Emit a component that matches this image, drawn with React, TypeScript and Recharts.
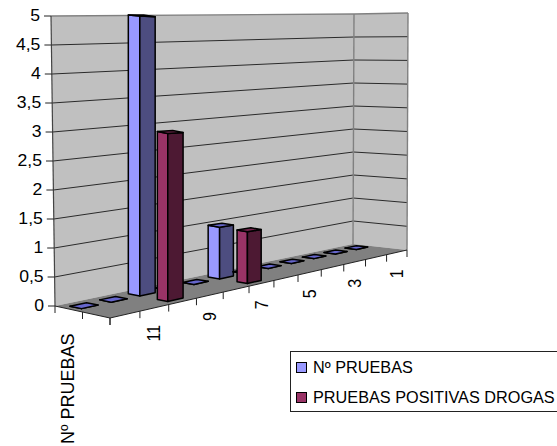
import React from "react";
import { BarChart, Bar, XAxis, YAxis, Legend, Customized } from "recharts";

const categories = ["12", "11", "10", "9", "8", "7", "6", "5", "4", "3", "2", "1"];
const labelledCategories = ["11", "9", "7", "5", "3", "1"];
const pruebas = [0, 0, 5, 0, 0, 1, 0, 0, 0, 0, 0, 0];
const positivas = [null, null, 3, null, null, 1, null, null, null, null, null, null];
const yTicks = [0, 0.5, 1, 1.5, 2, 2.5, 3, 3.5, 4, 4.5, 5];
const depthLabel = "Nº PRUEBAS";
const seriesNames = ["Nº PRUEBAS", "PRUEBAS POSITIVAS DROGAS"];

const data = categories.map((c, i) => ({ cat: c, pruebas: pruebas[i], positivas: positivas[i] }));

const FONT = "'Liberation Sans', Arial, sans-serif";
const L = 55, R = 407, T = 16, B = 306;
const W = R - L, H = B - T;

// floor and wall corners of the 3D box
const fA = [55, 306], fB = [110, 318], fC = [407, 250], fD = [353, 244];
const tA = [51, 16], tD = [354, 14], tC = [408, 13];
const G = 0.232;

const lerp = (a: number, b: number, t: number) => a + (b - a) * t;
const persp = (u: number) => (u * (1 + G)) / (1 + G * u);
const floorPt = (s: number, v: number) => {
  const fx = lerp(fB[0], fC[0], s), fy = lerp(fB[1], fC[1], s);
  const bx = lerp(fA[0], fD[0], s), by = lerp(fA[1], fD[1], s);
  return [lerp(fx, bx, v), lerp(fy, by, v)];
};
const lift = (s: number, v: number, frac: number) => {
  const [x, y] = floorPt(s, v);
  return [x, Math.max(15, y - frac * (298 - 81 * s))];
};
const pts = (a: number[][]) => a.map((p) => p.join(",")).join(" ");

const makeShape =
  (key: string, v0: number, v1: number, light: string, dark: string, top: string) =>
  (props: any) => {
    const { x, width, height, payload } = props;
    if (payload == null || payload[key] == null) return <g />;
    const s0 = persp((x - L) / W), s1 = persp((x + width - L) / W);
    const f = Math.abs(height) / H;
    const a0 = lift(s0, v0, 0), a1 = lift(s0, v1, 0), a2 = lift(s1, v0, 0);
    const b0 = lift(s0, v0, f), b1 = lift(s0, v1, f), b2 = lift(s1, v0, f), b3 = lift(s1, v1, f);
    const st = { stroke: "#000", strokeWidth: 1.5, strokeLinejoin: "round" as const };
    return (
      <g>
        <polygon points={pts([a1, a0, b0, b1])} fill={light} {...st} />
        <polygon points={pts([a0, a2, b2, b0])} fill={dark} {...st} />
        <polygon points={pts([b0, b1, b3, b2])} fill={top} {...st} />
      </g>
    );
  };

const blueShape = makeShape("pruebas", 0.65, 0.86, "#9999FF", "#4D4D80", "#6666CC");
const redShape = makeShape("positivas", 0.14, 0.33, "#993366", "#4D1933", "#73264D");

const Box3D = () => (
  <g>
    <polygon points={pts([tA, fA, fD, tD])} fill="#C0C0C0" />
    <polygon points={pts([tD, fD, fC, tC])} fill="#C0C0C0" />
    <polygon points={pts([fA, fB, fC, fD])} fill="#808080" />
    {yTicks.filter((t) => t > 0).map((t) => {
      const f = t / 5;
      const p0 = [lerp(fA[0], tA[0], f), lerp(fA[1], tA[1], f)];
      const p1 = [lerp(fD[0], tD[0], f), lerp(fD[1], tD[1], f)];
      const p2 = [lerp(fC[0], tC[0], f), lerp(fC[1], tC[1], f)];
      return (
        <polyline key={t} points={pts([p0, p1, p2])} fill="none"
          stroke={t === 5 ? "#808080" : "#2a2a2a"} strokeWidth={t === 5 ? 1.4 : 1} />
      );
    })}
    <line x1={fA[0]} y1={fA[1]} x2={tA[0]} y2={tA[1]} stroke="#444" strokeWidth={1.2} />
    <line x1={fD[0]} y1={fD[1]} x2={tD[0]} y2={tD[1]} stroke="#808080" strokeWidth={1.4} />
    <line x1={fC[0]} y1={fC[1]} x2={tC[0]} y2={tC[1]} stroke="#808080" strokeWidth={1.4} />
    <polyline points={pts([fA, fB, fC])} fill="none" stroke="#222" strokeWidth={1} />
    {[0, 0.5, 1].map((v) => {
      const p = [lerp(fB[0], fA[0], v), lerp(fB[1], fA[1], v)];
      return <line key={v} x1={p[0]} y1={p[1]} x2={p[0]} y2={p[1] + 7} stroke="#222" strokeWidth={1} />;
    })}
    <text
      transform="translate(74 444) rotate(-90)"
      fontFamily={FONT} fontSize={18} fill="#000"
    >
      {depthLabel}
    </text>
  </g>
);

const YTick = (props: any) => {
  const { y, payload } = props;
  const wall = lerp(fA[0], tA[0], payload.value / 5);
  return (
    <g>
      <line x1={wall - 7} y1={y} x2={wall} y2={y} stroke="#222" strokeWidth={1} />
      <text transform={`translate(${wall - 11} ${y}) scale(1.1 1)`} textAnchor="end" dominantBaseline="central"
        fontFamily={FONT} fontSize={16} fill="#000">
        {String(payload.value).replace(".", ",")}
      </text>
    </g>
  );
};

const XTick = (props: any) => {
  const { x, payload, index } = props;
  const band = W / categories.length;
  const edge = (u: number) => floorPt(persp(u), 0);
  const p0 = edge((x - band / 2 - L) / W);
  const p1 = edge((x + band / 2 - L) / W);
  const mid = edge((x - L) / W);
  const show = labelledCategories.includes(payload.value);
  const ty = mid[1] + 17;
  return (
    <g>
      <line x1={p0[0]} y1={p0[1]} x2={p0[0]} y2={p0[1] + 7} stroke="#222" strokeWidth={1} />
      {index === categories.length - 1 && (
        <line x1={p1[0]} y1={p1[1]} x2={p1[0]} y2={p1[1] + 7} stroke="#222" strokeWidth={1} />
      )}
      {show && (
        <text transform={`translate(${mid[0] + 6} ${ty}) rotate(-90) scale(1 1.16)`} textAnchor="end"
          fontFamily={FONT} fontSize={16} fill="#000">
          {payload.value}
        </text>
      )}
    </g>
  );
};

const LegendBox = (props: any) => (
  <div
    style={{
      boxSizing: "border-box", width: 280, height: 61, border: "1px solid #222",
      fontFamily: FONT, fontSize: 16.25, color: "#000", background: "#fff", position: "relative",
    }}
  >
    {(props.payload || []).map((e: any, i: number) => (
      <div key={e.value} style={{ position: "absolute", left: 0, top: 3 + i * 30.5, height: 24, display: "flex", alignItems: "center", whiteSpace: "nowrap" }}>
        <span style={{ boxSizing: "border-box", width: 11, height: 11, marginLeft: 5, marginRight: 6, border: "1px solid #000", background: e.color }} />
        <span>{e.value}</span>
      </div>
    ))}
  </div>
);

export default function App() {
  return (
    <div style={{ position: "fixed", left: 0, top: 0, width: 557, height: 446, overflow: "hidden", background: "#fff" }}>
      <BarChart
        width={557}
        height={446}
        data={data}
        margin={{ top: T, right: 557 - R, bottom: 446 - B - 1, left: 0 }}
        barSize={16.2}
        barGap={-16.2}
      >
        <Customized component={Box3D} />
        <XAxis dataKey="cat" height={1} interval={0} axisLine={false} tickLine={false} tick={XTick} />
        <YAxis width={L} domain={[0, 5]} ticks={yTicks} axisLine={false} tickLine={false} tick={YTick} />
        <Bar dataKey="pruebas" name={seriesNames[0]} fill="#9999FF" isAnimationActive={false} shape={blueShape} />
        <Bar dataKey="positivas" name={seriesNames[1]} fill="#993366" isAnimationActive={false} shape={redShape} />
        <Legend
          layout="vertical"
          align="center"
          verticalAlign="middle"
          content={LegendBox}
          wrapperStyle={{ position: "absolute", left: 290, top: 351, width: 280, height: 61 }}
        />
      </BarChart>
    </div>
  );
}
